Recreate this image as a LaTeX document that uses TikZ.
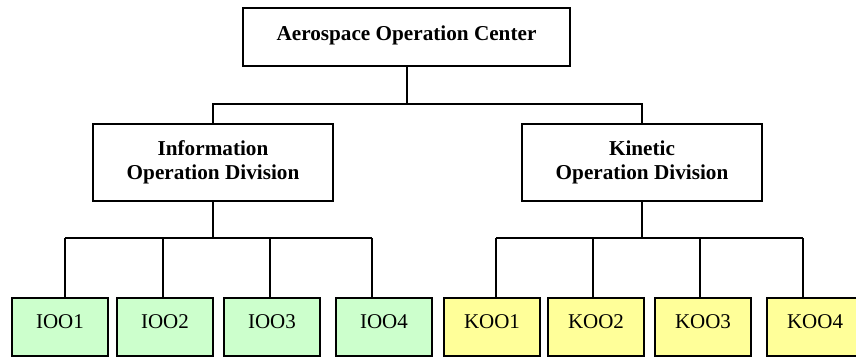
\documentclass[tikz,border=0pt]{standalone}
\usepackage{fontspec}
\setmainfont{Liberation Serif}
\definecolor{iogreen}{RGB}{204,255,204}
\definecolor{kyellow}{RGB}{255,255,153}
\begin{document}
\begin{tikzpicture}[x=1pt,y=-1pt,
  box/.style={draw=black, line width=2pt, fill=white, anchor=north west, inner sep=0pt,
    font=\fontsize{21.2}{24}\selectfont\bfseries, align=center},
  leaf/.style={box, font=\fontsize{21}{24}\selectfont, minimum width=96pt, minimum height=58pt,
    text height=14pt, text depth=12pt},
  iobox/.style={leaf, fill=iogreen},
  kobox/.style={leaf, fill=kyellow},
  conn/.style={draw=black, line width=2pt}]
\useasboundingbox (0,0) rectangle (856,356);
% top
\node[box, minimum width=327pt, minimum height=58pt, text height=15pt, text depth=9pt] (aoc) at (242,7) {Aerospace Operation Center};
% divisions
\node[box, minimum width=240pt, minimum height=77pt, yshift=0pt] (iod) at (92,123) {Information\\Operation Division};
\node[box, minimum width=240pt, minimum height=77pt] (kod) at (521,123) {Kinetic\\Operation Division};
% leaves
\node[iobox] (ioo1) at (11,297) {IOO1};
\node[iobox] (ioo2) at (116,297) {IOO2};
\node[iobox] (ioo3) at (223,297) {IOO3};
\node[iobox] (ioo4) at (335,297) {IOO4};
\node[kobox] (koo1) at (443,297) {KOO1};
\node[kobox] (koo2) at (547,297) {KOO2};
\node[kobox] (koo3) at (654,297) {KOO3};
\node[kobox] (koo4) at (766,297) {KOO4};
% bus coordinates
\coordinate (b1l) at (212,104);
\coordinate (b1r) at (643,104);
\coordinate (b2l) at (65,238);
\coordinate (b2a) at (163,238);
\coordinate (b2b) at (270,238);
\coordinate (b2r) at (372,238);
\coordinate (b3l) at (496,238);
\coordinate (b3a) at (593,238);
\coordinate (b3b) at (700,238);
\coordinate (b3r) at (803,238);
% connectors
\draw[conn] (aoc.south) -- (aoc.south |- b1l);
\draw[conn] (b1l) -- (b1r);
\draw[conn] (iod.north |- b1l) -- (iod.north);
\draw[conn] (kod.north |- b1l) -- (kod.north);
\draw[conn] (iod.south) -- (iod.south |- b2l);
\draw[conn] (kod.south) -- (kod.south |- b3l);
\draw[conn] (b2l) -- (b2r);
\draw[conn] (b3l) -- (b3r);
\draw[conn] (b2l) -- (b2l |- ioo1.north);
\draw[conn] (b2a) -- (b2a |- ioo2.north);
\draw[conn] (b2b) -- (b2b |- ioo3.north);
\draw[conn] (b2r) -- (b2r |- ioo4.north);
\draw[conn] (b3l) -- (b3l |- koo1.north);
\draw[conn] (b3a) -- (b3a |- koo2.north);
\draw[conn] (b3b) -- (b3b |- koo3.north);
\draw[conn] (b3r) -- (b3r |- koo4.north);
\end{tikzpicture}
\end{document}
